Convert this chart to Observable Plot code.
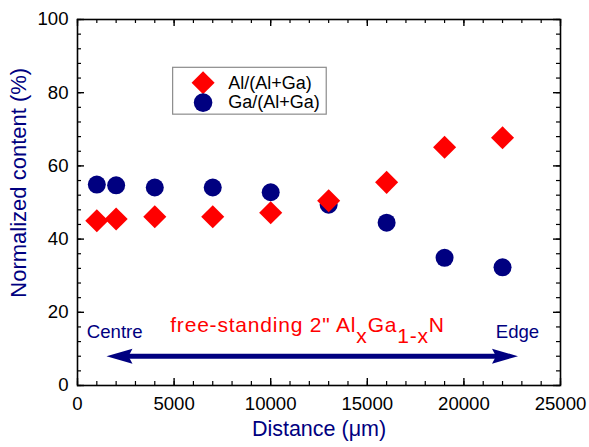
<!DOCTYPE html>
<html>
<head>
<meta charset="utf-8">
<script src="https://cdn.jsdelivr.net/npm/d3@7"></script>
<script src="https://cdn.jsdelivr.net/npm/@observablehq/plot@0.6"></script>
<style>
  html, body { margin: 0; padding: 0; background: white; }
  #chart { position: relative; width: 589px; height: 447px; }
</style>
</head>
<body>
<div id="chart"></div>
<script>
// ---- data ----
const distance = [1000, 2000, 4000, 7000, 10000, 13000, 16000, 19000, 22000];
const alContent = [45.0, 45.5, 46.1, 46.1, 47.2, 50.5, 55.5, 65.1, 67.7];
const gaContent = [54.9, 54.7, 54.1, 54.1, 52.8, 49.4, 44.5, 34.9, 32.3];
const seriesNames = ["Al/(Al+Ga)", "Ga/(Al+Ga)"];
const xTicks = [0, 5000, 10000, 15000, 20000, 25000];
const yTicks = [0, 20, 40, 60, 80, 100];
const xMinorStep = 1000;
const yMinorStep = 4;
const arrowSpan = [1500, 22800];
const arrowLevel = 8;
const annotations = ["Centre", "Edge"];

const RED = "#ff0000";
const NAVY = "#000080";
const FONT = "'Liberation Sans', Arial, Helvetica, sans-serif";

const W = 589, H = 447;
const mL = 77, mR = 29, mT = 19, mB = 62;
const pw = W - mL - mR, ph = H - mT - mB;

const xMinor = d3.range(0, 25000 + 1, xMinorStep);
const yMinor = d3.range(0, 100 + 1, yMinorStep);

const alData = distance.map((d, i) => ({x: d, y: alContent[i]}));
const gaData = distance.map((d, i) => ({x: d, y: gaContent[i]}));

// custom arrowhead symbol (tip at origin, pointing right)
const arrowHead = {
  draw(ctx) {
    ctx.moveTo(0, 0);
    ctx.lineTo(-26, -7.5);
    ctx.lineTo(-22, 0);
    ctx.lineTo(-26, 7.5);
    ctx.closePath();
  }
};

const majorLen = 7, minorLen = 4;

const chart = Plot.plot({
  width: W, height: H,
  marginLeft: mL, marginRight: mR, marginTop: mT, marginBottom: mB,
  style: {fontFamily: FONT, fontSize: "18px", background: "white", color: "black", overflow: "visible"},
  x: {domain: [0, 25000], axis: null},
  y: {domain: [0, 100], axis: null},
  marks: [
    // legend box
    Plot.rect([0], {x1: 4950, x2: 12900, y1: 74, y2: 86.8, fill: "white", stroke: "#8c8c8c", strokeWidth: 1.2}),
    Plot.dot([0], {x: 6500, y: 82.7, symbol: "diamond2", r: 10.4, fill: RED}),
    Plot.dot([0], {x: 6500, y: 77.3, symbol: "circle", r: 9.3, fill: NAVY}),
    Plot.text([seriesNames[0]], {x: 7800, y: 82.7, text: d => d, textAnchor: "start", fontSize: 18, fill: "black"}),
    Plot.text([seriesNames[1]], {x: 7800, y: 77.3, text: d => d, textAnchor: "start", fontSize: 18, fill: "black"}),

    // data
    Plot.dot(gaData, {x: "x", y: "y", symbol: "circle", r: 9, fill: NAVY}),
    Plot.dot(alData, {x: "x", y: "y", symbol: "diamond2", r: 10.4, fill: RED}),

    // double arrow
    Plot.link([0], {x1: arrowSpan[0] + 1000, x2: arrowSpan[1] - 1000, y1: arrowLevel, y2: arrowLevel, stroke: NAVY, strokeWidth: 5}),
    Plot.dot([0], {x: arrowSpan[1], y: arrowLevel, symbol: arrowHead, fill: NAVY, stroke: "none"}),
    Plot.dot([0], {x: arrowSpan[0], y: arrowLevel, symbol: arrowHead, fill: NAVY, stroke: "none", rotate: 180}),

    // annotations
    Plot.text([annotations[0]], {x: 480, y: 14.6, text: d => d, textAnchor: "start", fill: NAVY, fontSize: 18.6}),
    Plot.text([annotations[1]], {x: 21650, y: 14.6, text: d => d, textAnchor: "start", fill: NAVY, fontSize: 18.6}),
    Plot.text(["free-standing 2\" Al|x|Ga|1-x|N"], {x: 4800, y: 16.5, text: d => d, textAnchor: "start", fill: RED, fontSize: 21, className: "redtitle"}),

    // ticks (inward, mirrored)
    Plot.tickX(xMinor, {x: d => d, insetTop: ph - minorLen, stroke: "black", strokeWidth: 1.2}),
    Plot.tickX(xMinor, {x: d => d, insetBottom: ph - minorLen, stroke: "black", strokeWidth: 1.2}),
    Plot.tickX(xTicks, {x: d => d, insetTop: ph - majorLen, stroke: "black", strokeWidth: 1.4}),
    Plot.tickX(xTicks, {x: d => d, insetBottom: ph - majorLen, stroke: "black", strokeWidth: 1.4}),
    Plot.tickY(yMinor, {y: d => d, insetRight: pw - minorLen, stroke: "black", strokeWidth: 1.2}),
    Plot.tickY(yMinor, {y: d => d, insetLeft: pw - minorLen, stroke: "black", strokeWidth: 1.2}),
    Plot.tickY(yTicks, {y: d => d, insetRight: pw - majorLen, stroke: "black", strokeWidth: 1.4}),
    Plot.tickY(yTicks, {y: d => d, insetLeft: pw - majorLen, stroke: "black", strokeWidth: 1.4}),

    // tick labels
    Plot.axisX({ticks: xTicks, tickSize: 0, tickPadding: 11, tickFormat: d => String(d), fontSize: 18.6, label: null}),
    Plot.axisY({ticks: yTicks, tickSize: 0, tickPadding: 9, tickFormat: d => String(d), fontSize: 18.6, label: null}),

    // axis titles
    Plot.text(["Distance (\u03bcm)"], {frameAnchor: "bottom", dy: 50, text: d => d, fill: NAVY, fontSize: 21.5}),
    Plot.text(["Normalized content (%)"], {x: -3050, y: 55.4, rotate: -90, text: d => d, fill: NAVY, fontSize: 22}),

    Plot.frame({stroke: "black", strokeWidth: 1.6})
  ]
});

// turn the red annotation into real text with subscripts
d3.select(chart).selectAll("g.redtitle text").each(function() {
  const parts = this.textContent.split("|");
  const t = d3.select(this);
  t.attr("letter-spacing", "0.8px");
  t.text(null);
  t.append("tspan").text(parts[0]);
  t.append("tspan").attr("dy", "0.52em").text(parts[1]);
  t.append("tspan").attr("dy", "-0.52em").text(parts[2]);
  t.append("tspan").attr("dy", "0.52em").text(parts[3]);
  t.append("tspan").attr("dy", "-0.52em").text(parts[4]);
});

document.getElementById("chart").appendChild(chart);
</script>
</body>
</html>
